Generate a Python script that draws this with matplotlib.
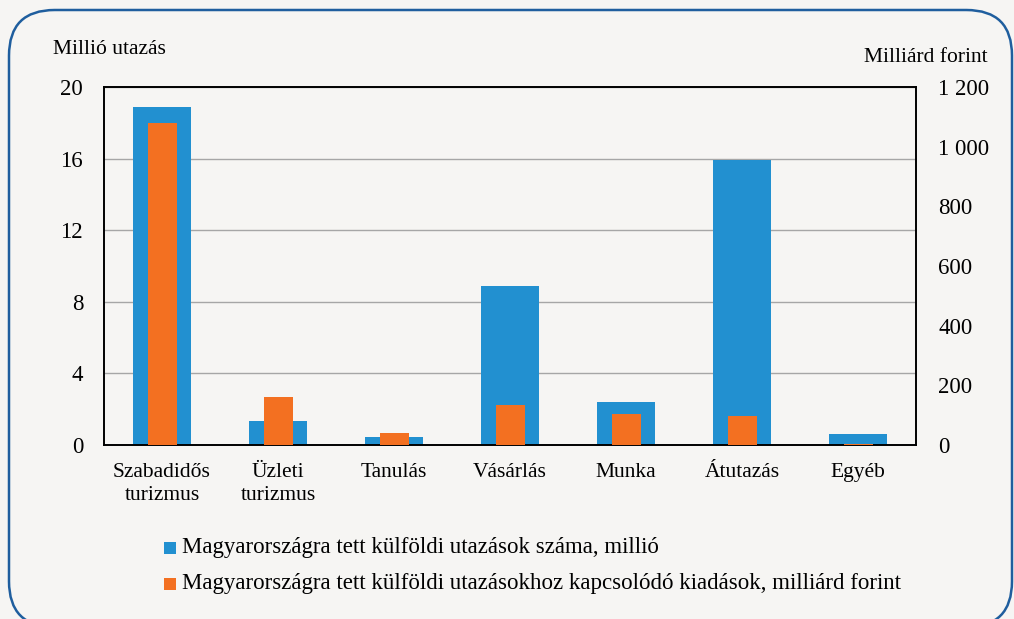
import matplotlib.pyplot as plt
from matplotlib.patches import FancyBboxPatch
import matplotlib.ticker as ticker
import numpy as np

# ==================== DATA ====================
categories = ['Szabadidős\nturizmus', 'Üzleti\nturizmus', 'Tanulás', 'Vásárlás',
              'Munka', 'Átutazás', 'Egyéb']
trips_million = [18.9, 1.35, 0.42, 8.88, 2.4, 15.9, 0.62]
spend_bn_huf = [1078, 160, 40, 133, 103, 96, 2]

left_ticks = [0, 4, 8, 12, 16, 20]
right_ticks = [0, 200, 400, 600, 800, 1000, 1200]

BLUE = '#2290d0'
ORANGE = '#f37021'
BG = '#f6f5f3'
FONT = 'Liberation Serif'
# ==============================================

plt.rcParams['font.family'] = FONT
plt.rcParams['font.size'] = 15

fig = plt.figure(figsize=(10.14, 6.19), dpi=100, facecolor=BG)

# rounded frame, bottom edge sits just below the canvas
frame = FancyBboxPatch((9 / 1014, -8 / 619), 1003 / 1014, (619 + 8 - 10) / 619,
                       boxstyle='round,pad=0,rounding_size=0.045',
                       transform=fig.transFigure, facecolor='none',
                       edgecolor='#1f5e9e', linewidth=1.8,
                       mutation_aspect=1014 / 619)
fig.patches.append(frame)

ax = fig.add_axes([104 / 1014, 1 - 445 / 619, 812 / 1014, 358 / 619])
ax.set_facecolor(BG)
x = np.arange(len(categories))

ax.bar(x, trips_million, width=0.5, color=BLUE, zorder=2)
ax.set_ylim(0, 20)
ax.set_yticks(left_ticks)
ax.set_xlim(-0.5, len(categories) - 0.5)
ax.set_xticks(x)
ax.set_xticklabels(categories, linespacing=1.3, fontsize=15.5)
ax.grid(axis='y', color='#a6a6a6', linewidth=1, zorder=0)
ax.tick_params(axis='y', length=0, pad=15, labelsize=16.5)
ax.tick_params(axis='x', length=0, pad=13)
for s in ax.spines.values():
    s.set_color('black')
    s.set_linewidth(1.2)

ax2 = ax.twinx()
ax2.bar(x, spend_bn_huf, width=0.25, color=ORANGE, zorder=3)
ax2.set_ylim(0, 1200)
ax2.set_yticks(right_ticks)
ax2.yaxis.set_major_formatter(ticker.FuncFormatter(
    lambda v, p: format(int(v), ',').replace(',', ' ')))
ax2.tick_params(length=0, pad=16, labelsize=16.5)
for s in ax2.spines.values():
    s.set_color('black')
    s.set_linewidth(1.2)

fig.text(53 / 1014, 1 - 50 / 619, 'Millió utazás', ha='left', va='center', fontsize=15.5)
fig.text(988 / 1014, 1 - 57 / 619, 'Milliárd forint', ha='right', va='center', fontsize=15.5)

# legend
legend_items = [(BLUE, 'Magyarországra tett külföldi utazások száma, millió'),
                (ORANGE, 'Magyarországra tett külföldi utazásokhoz kapcsolódó kiadások, milliárd forint')]
for i, (col, label) in enumerate(legend_items):
    yy = 1 - (548 + 36 * i) / 619
    fig.patches.append(plt.Rectangle((164 / 1014, yy - 6 / 619), 12 / 1014, 12 / 619,
                                     transform=fig.transFigure, facecolor=col,
                                     edgecolor='none'))
    fig.text(182 / 1014, yy, label, ha='left', va='center', fontsize=16.5)

fig.savefig('out.png', dpi=100, facecolor=BG)
